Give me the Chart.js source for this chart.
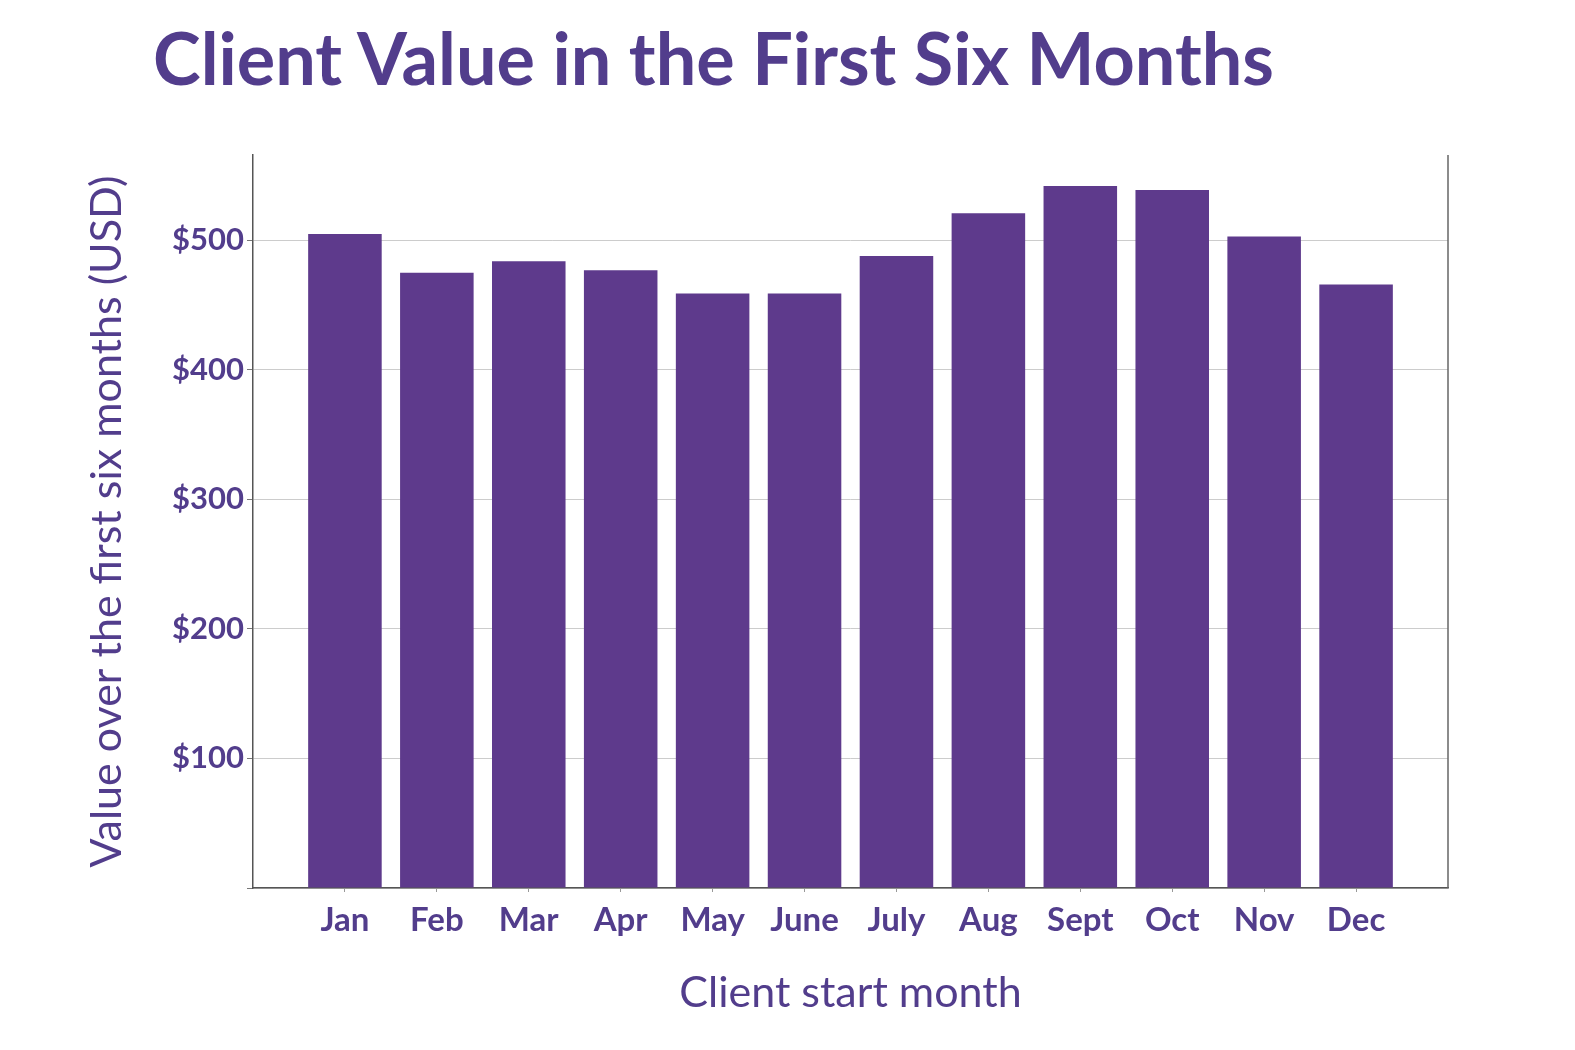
<!DOCTYPE html>
<html>
<head>
<meta charset="utf-8">
<script src="https://cdn.jsdelivr.net/npm/chart.js@4/dist/chart.umd.min.js"></script>
<style>
  html, body { margin: 0; padding: 0; background: #fff; }
  #wrap { position: relative; width: 1575px; height: 1050px; }
  #title {
    position: absolute; left: 153px; top: 14px; margin: 0;
    font-family: Lato, 'Noto Sans', sans-serif; font-weight: 700;
    font-size: 72px; color: #523d8c; white-space: nowrap;
  }
  canvas { position: absolute; left: 0; top: 0; }
</style>
</head>
<body>
<div id="wrap">
  <h1 id="title">Client Value in the First Six Months</h1>
  <canvas id="chart" width="1575" height="1050"></canvas>
</div>
<script>
// values
const months = ['Jan', 'Feb', 'Mar', 'Apr', 'May', 'June', 'July', 'Aug', 'Sept', 'Oct', 'Nov', 'Dec'];
const clientValue = [505, 475, 484, 477, 459, 459, 488, 521, 542, 539, 503, 466];
const yTicks = [100, 200, 300, 400, 500];

const textColor = '#523d8c';
const barColor = '#5e3a8c';
const fontFamily = "Lato, 'Noto Sans', sans-serif";

/* right hand frame line, the reference has no top line */
const rightBorder = {
  id: 'rightBorder',
  afterDraw(chart) {
    const { ctx, chartArea } = chart;
    ctx.save();
    ctx.strokeStyle = '#666';
    ctx.lineWidth = 1.5;
    ctx.beginPath();
    ctx.moveTo(chartArea.right, chartArea.top);
    ctx.lineTo(chartArea.right, chartArea.bottom);
    ctx.stroke();
    ctx.restore();
  },
};

const ctx = document.getElementById('chart').getContext('2d');

new Chart(ctx, {
  type: 'bar',
  data: {
    datasets: [{
      data: clientValue.map((v, i) => ({ x: i, y: v })),
      backgroundColor: barColor,
      borderWidth: 0,
      categoryPercentage: 0.8,
      barPercentage: 1,
    }],
  },
  options: {
    responsive: false,
    animation: false,
    layout: { padding: { left: 77, right: 127, top: 155, bottom: 27 } },
    plugins: {
      legend: { display: false },
      tooltip: { enabled: false },
    },
    scales: {
      x: {
        type: 'linear',
        min: -1,
        max: 12,
        offset: false,
        afterFit(scale) { scale.height = 135; },
        afterBuildTicks(scale) {
          scale.ticks = months.map((m, i) => ({ value: i }));
        },
        ticks: {
          autoSkip: false,
          maxRotation: 0,
          padding: 9,
          color: textColor,
          font: { family: fontFamily, size: 33, weight: 'bold' },
          callback: value => months[value] || '',
        },
        grid: { offset: false, drawOnChartArea: false, tickLength: 4, tickColor: '#999' },
        border: { color: '#555', width: 1.5 },
        title: {
          display: true,
          text: 'Client start month',
          color: textColor,
          font: { family: fontFamily, size: 43 },
        },
      },
      y: {
        min: 0,
        max: 566,
        afterFit(scale) { scale.width = 176; },
        afterBuildTicks(scale) {
          scale.ticks = [0, ...yTicks].map(v => ({ value: v }));
        },
        ticks: {
          padding: 3,
          color: textColor,
          font: { family: fontFamily, size: 31, weight: 'bold' },
          callback: value => (value === 0 ? '' : '$' + value),
        },
        grid: { color: '#cccccc', tickColor: '#777', tickLength: 6, lineWidth: 1 },
        border: { color: '#555', width: 1.5 },
        title: {
          display: true,
          text: 'Value over the first six months (USD)',
          color: textColor,
          font: { family: fontFamily, size: 43 },
        },
      },
    },
  },
  plugins: [rightBorder],
});
</script>
</body>
</html>
